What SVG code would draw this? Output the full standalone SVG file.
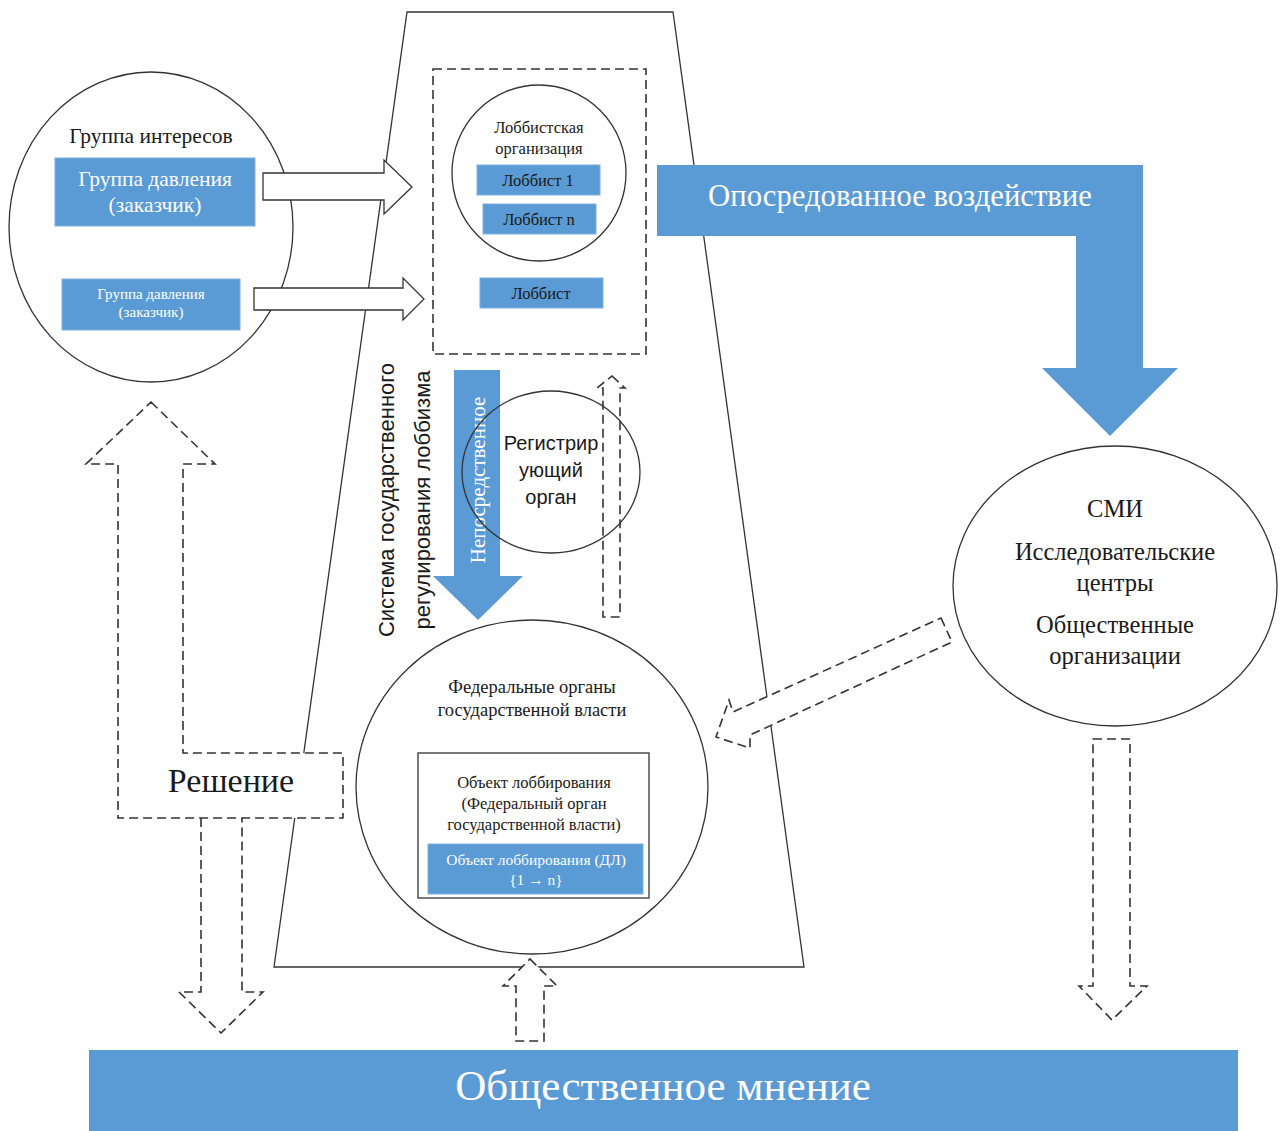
<svg xmlns="http://www.w3.org/2000/svg" width="1280" height="1131" viewBox="0 0 1280 1131">
<style>
.ser{font-family:"Liberation Serif","Times New Roman",serif;fill:#1a1a1a;text-anchor:middle}
.san{font-family:"Liberation Sans",Arial,sans-serif;fill:#1a1a1a;text-anchor:middle}
.wt{fill:#ffffff}
.blue{fill:#5B9BD5;stroke:#7fb0de;stroke-width:1}
.line{fill:none;stroke:#333;stroke-width:1.3}
.wline{fill:#fff;stroke:#333;stroke-width:1.3}
.dash{fill:#fff;stroke:#333;stroke-width:1.6;stroke-dasharray:9 5}
.dashn{fill:none;stroke:#333;stroke-width:1.6;stroke-dasharray:9 5}
</style>
<rect width="1280" height="1131" fill="#fff"/>

<g id="system">
<polygon class="line" points="407,12 673,12 804,967 274,967"/>
<text class="san" font-size="22" transform="translate(394,500) rotate(-90)">Система государственного</text>
<text class="san" font-size="22" transform="translate(430,500) rotate(-90)">регулирования лоббизма</text>
</g>

<g id="interest-group">
<ellipse class="wline" cx="151" cy="227" rx="142" ry="155"/>
<text class="ser" font-size="21.5" x="151" y="143">Группа интересов</text>
<rect class="blue" x="55" y="158" width="200" height="68"/>
<text class="ser wt" font-size="21.5" x="155" y="186">Группа давления</text>
<text class="ser wt" font-size="21.5" x="155" y="212">(заказчик)</text>
<rect class="blue" x="62" y="279" width="178" height="51"/>
<text class="ser wt" font-size="15" x="151" y="299">Группа давления</text>
<text class="ser wt" font-size="15" x="151" y="317">(заказчик)</text>
</g>

<g id="lobby-area">
<rect class="dashn" x="433" y="69" width="213" height="285"/>
<ellipse class="line" cx="539" cy="173" rx="87" ry="88"/>
<text class="ser" font-size="16.5" x="539" y="133">Лоббистская</text>
<text class="ser" font-size="16.5" x="539" y="154">организация</text>
<rect class="blue" x="477" y="165" width="123" height="30"/>
<text class="ser" font-size="16.5" x="538" y="186">Лоббист 1</text>
<rect class="blue" x="483" y="204" width="113" height="30"/>
<text class="ser" font-size="16.5" x="539" y="225">Лоббист n</text>
<rect class="blue" x="480" y="278" width="123" height="30"/>
<text class="ser" font-size="16.5" x="541" y="299">Лоббист</text>
</g>

<g id="direct-arrow">
<polygon fill="#5B9BD5" points="454,370 500,370 500,576 523,576 478,620 433,576 454,576"/>
<text class="ser wt" font-size="21" transform="translate(485,480) rotate(-90)">Непосредственное</text>
</g>

<g id="registering-body">
<ellipse class="line" cx="551" cy="472" rx="89" ry="81"/>
<text class="san" font-size="20" x="551" y="450">Регистрир</text>
<text class="san" font-size="20" x="551" y="477">ующий</text>
<text class="san" font-size="20" x="551" y="504">орган</text>
</g>

<g id="federal-bodies">
<ellipse class="wline" cx="532" cy="787" rx="176" ry="167"/>
<text class="ser" font-size="18.5" x="532" y="693">Федеральные органы</text>
<text class="ser" font-size="18.5" x="532" y="716">государственной власти</text>
<rect class="line" x="418" y="753" width="231" height="145" stroke="#222"/>
<text class="ser" font-size="16.5" x="534" y="788">Объект лоббирования</text>
<text class="ser" font-size="16.5" x="534" y="809">(Федеральный орган</text>
<text class="ser" font-size="16.5" x="534" y="830">государственной власти)</text>
<rect class="blue" x="428" y="844" width="215" height="50"/>
<text class="ser wt" font-size="15.5" x="536" y="865">Объект лоббирования (ДЛ)</text>
<text class="ser wt" font-size="15.5" x="536" y="885">{1 → n}</text>
</g>

<g id="media">
<ellipse class="wline" cx="1115" cy="586" rx="162" ry="140"/>
<text class="ser" font-size="24.5" x="1115" y="517">СМИ</text>
<text class="ser" font-size="24.5" x="1115" y="560">Исследовательские</text>
<text class="ser" font-size="24.5" x="1115" y="591">центры</text>
<text class="ser" font-size="24.5" x="1115" y="633">Общественные</text>
<text class="ser" font-size="24.5" x="1115" y="664">организации</text>
</g>

<g id="public-opinion">
<rect fill="#5B9BD5" x="89" y="1050" width="1149" height="81"/>
<text class="ser wt" font-size="43" x="663" y="1100">Общественное мнение</text>
</g>

<g id="connectors">
<path class="wline" d="M263 173 H384 V160 L412 187 L384 214 V200 H263 Z"/>
<path class="wline" d="M254 288 H403 V278 L424 299 L403 320 V310 H254 Z"/>
<path fill="#5B9BD5" d="M657 165 H1143 V368 H1178 L1110 436 L1042 368 H1076 V236 H657 Z"/>
<text class="ser wt" font-size="30.7" x="900" y="206">Опосредованное воздействие</text>
<path class="dashn" d="M612 376 L625 388 H620 V617 H603 V388 H597 Z"/>
<path class="dash" d="M941 618 L952 642 L750 735 L750 748 L716 737 L729 700 L733 712 Z"/>
<path class="dash" d="M1093 739 H1130 V986 H1147 L1112 1020 L1079 986 H1093 Z"/>
<path class="dash" d="M530 959 L557 986 H544 V1041 H516 V986 H503 Z"/>
<path class="dash" d="M201 818 V992 H179 L221 1033 L263 992 H242 V818"/>
</g>

<g id="decision">
<path class="dash" d="M151 402 L215 464 H183 V753 H343 V818 H118 V464 H86 Z"/>
<text class="ser" font-size="34" x="231" y="792">Решение</text>
</g>
</svg>
